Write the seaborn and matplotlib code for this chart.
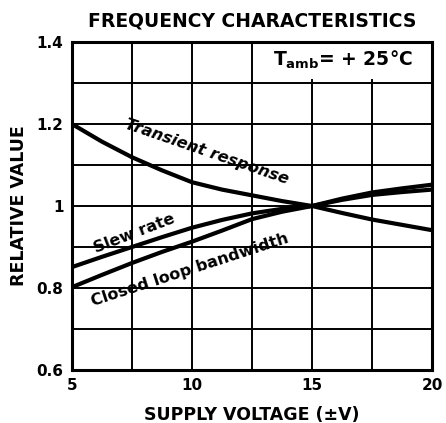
import pandas as pd
import numpy as np

import matplotlib.pyplot as plt
import seaborn as sns
from matplotlib.patches import Rectangle


sns.set_theme(style="white")
plt.rcParams["font.family"] = ["DejaVu Sans"]
plt.rcParams["text.color"] = "black"
plt.rcParams["axes.labelcolor"] = "black"
plt.rcParams["xtick.color"] = "black"
plt.rcParams["ytick.color"] = "black"

voltage = [5, 6.25, 7.5, 8.75, 10, 11.25, 12.5, 13.75, 15, 16.25, 17.5, 18.75, 20]
transient = [1.20, 1.157, 1.119, 1.087, 1.058, 1.040, 1.026, 1.012, 1.0, 0.983, 0.967, 0.954, 0.941]
slew_rate = [0.851, 0.876, 0.900, 0.924, 0.947, 0.966, 0.982, 0.993, 1.0, 1.015, 1.027, 1.034, 1.040]
closed_loop = [0.802, 0.832, 0.861, 0.888, 0.913, 0.940, 0.968, 0.986, 1.0, 1.018, 1.033, 1.043, 1.052]

n = len(voltage)
df = pd.DataFrame({
    "Voltage": voltage * 3,
    "Value": transient + slew_rate + closed_loop,
    "Curve": ["Transient response"] * n + ["Slew rate"] * n + ["Closed loop bandwidth"] * n,
})

fig = plt.figure(figsize=(4.46, 4.23), dpi=100)
ax = fig.add_axes([0.161, 0.125, 0.808, 0.776])

# grid drawn by hand, black like the datasheet
for gx in np.arange(5, 20.1, 2.5):
    ax.axvline(gx, color="black", lw=1.4, zorder=1)
for gy in np.arange(0.6, 1.41, 0.1):
    ax.axhline(gy, color="black", lw=1.4, zorder=1)

ax.add_patch(Rectangle((12.62, 1.31), 7.38, 0.09, facecolor="white",
                       edgecolor="none", zorder=2))

sns.lineplot(data=df, x="Voltage", y="Value", hue="Curve",
             palette=["black", "black", "black"], linewidth=3,
             legend=False, ax=ax, zorder=3)

ax.set_xlim(5, 20)
ax.set_ylim(0.6, 1.4)
ax.set_xticks([5, 10, 15, 20])
ax.set_xticklabels(["5", "10", "15", "20"], fontweight="bold", fontsize=11)
ax.set_yticks([0.6, 0.8, 1.0, 1.2, 1.4])
ax.set_yticklabels(["0.6", "0.8", "1", "1.2", "1.4"], fontweight="bold", fontsize=11)
ax.tick_params(length=0, pad=6)
for s in ax.spines.values():
    s.set_color("black")
    s.set_linewidth(2.2)
    s.set_zorder(4)

ax.set_xlabel("SUPPLY VOLTAGE (±V)", fontweight="bold", fontsize=12.5, labelpad=9)
ax.set_ylabel("RELATIVE VALUE", fontweight="bold", fontsize=12.5, labelpad=6)
ax.set_title("FREQUENCY CHARACTERISTICS", fontweight="bold", fontsize=13.5, pad=11)

ax.text(16.3, 1.355, r"T$_{\mathbf{amb}}$= + 25°C", fontsize=13.5, fontweight="bold",
        ha="center", va="center", zorder=5)
ax.text(10.6, 1.132, "Transient response", rotation=-19, fontsize=11.5,
        fontweight="bold", fontstyle="italic", ha="center", va="center", zorder=5)
ax.text(7.6, 0.932, "Slew rate", rotation=21, fontsize=11.5,
        fontweight="bold", ha="center", va="center", zorder=5)
ax.text(9.9, 0.843, "Closed loop bandwidth", rotation=18, fontsize=11.5,
        fontweight="bold", ha="center", va="center", zorder=5)

plt.savefig("out.png", dpi=100)
